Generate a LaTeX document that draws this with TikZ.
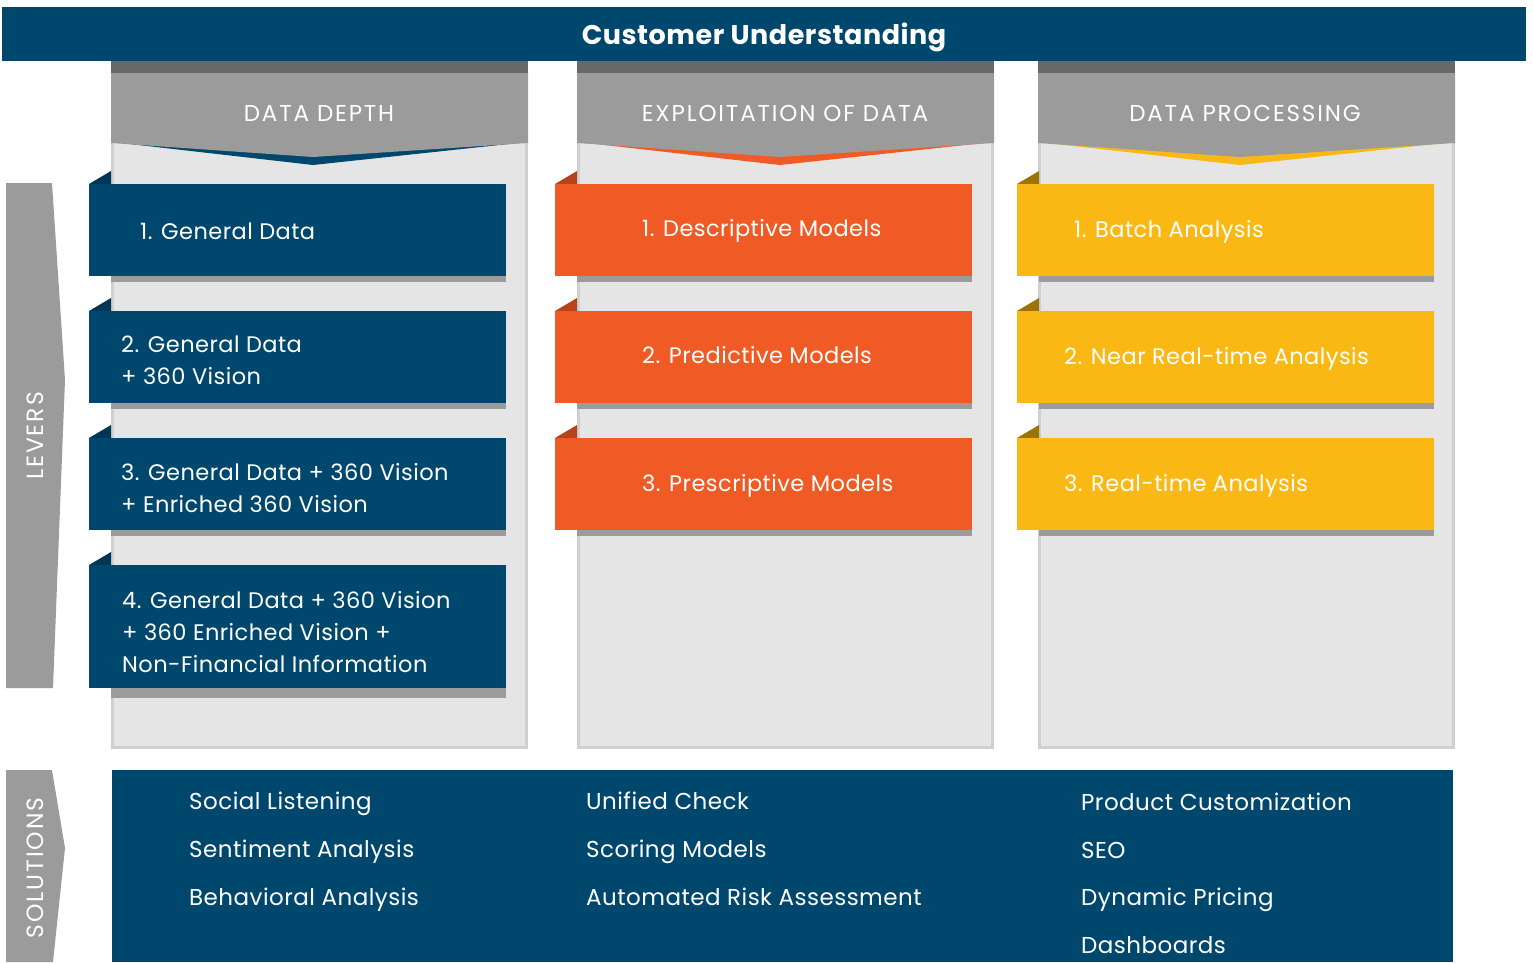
\documentclass[tikz,border=0pt]{standalone}
\usepackage{fontspec}
\setmainfont{Poppins}
\newfontfamily\spacedfont[LetterSpace=8]{Poppins}
\newfontfamily\widefont[LetterSpace=2]{Poppins}
\definecolor{cublue}{HTML}{00476E}
\definecolor{cublued}{HTML}{003655}
\definecolor{cuorange}{HTML}{F05A24}
\definecolor{cuoranged}{HTML}{B8421A}
\definecolor{cuyellow}{HTML}{FAB814}
\definecolor{cuyellowd}{HTML}{9C7304}
\definecolor{hdrgray}{HTML}{9B9B9B}
\definecolor{hdrdark}{HTML}{686868}
\definecolor{panelgray}{HTML}{E5E5E5}
\definecolor{panelborder}{HTML}{D0D0D0}
\definecolor{shadowgray}{HTML}{9B9B9B}
\newcommand\drawcard[6]{%
  \fill[#5] (#1,#2) -- (#1+22,#2-13) -- (#1+22,#2) -- cycle;
  \fill[shadowgray] (#1+22,#3) rectangle (#1+417,#3+#6);
  \fill[#4] (#1,#2) rectangle (#1+417,#3);
}
\newcommand\drawpanel[3]{%
  \fill[panelgray, draw=panelborder, line width=3pt] (#1+1.5,101) rectangle (#1+415.5,747);
  \fill[#3] (#1+10,143) -- (#2,165) -- (#1+407,143) -- cycle;
  \fill[hdrgray] (#1,73) -- (#1+417,73) -- (#1+417,143) -- (#2,157) -- (#1,143) -- cycle;
  \fill[hdrdark] (#1,61) rectangle (#1+417,73);
}
\begin{document}
\begin{tikzpicture}[x=1pt,y=-1pt,
  cardtext/.style={text=white, anchor=west, align=left, inner sep=0pt,
    font=\widefont\fontsize{22.5}{32}\selectfont},
  cardline/.style={text=white, anchor=base west, inner sep=0pt,
    font=\widefont\fontsize{22.5}{32}\selectfont},
  hdrtext/.style={text=white, anchor=base, inner sep=0pt, font=\spacedfont\fontsize{23}{26}\selectfont},
  soltext/.style={text=white, anchor=base west, inner sep=0pt, font=\widefont\fontsize{23}{26}\selectfont},
  sidetext/.style={text=white, inner sep=0pt, rotate=90, font=\spacedfont\fontsize{23.5}{26}\selectfont},
]
\useasboundingbox (0,0) rectangle (1533,962);
% title bar
\fill[cublue] (2,7) rectangle (1526,61);
\node[text=white, anchor=base, inner sep=0pt, font=\widefont\fontsize{27}{30}\selectfont\bfseries] (title) at (764,44) {Customer Understanding};
% panels
\drawpanel{111}{313}{cublue}
\drawpanel{577}{780}{cuorange}
\drawpanel{1038}{1240}{cuyellow}
\node[hdrtext] (h1) at (319,121.5) {DATA DEPTH};
\node[hdrtext] (h2) at (785,121.5) {EXPLOITATION OF DATA};
\node[hdrtext] (h3) at (1245,121.5) {DATA PROCESSING};
% side arrows
\fill[hdrgray] (6,183) -- (52,183) -- (65,380) -- (53,688) -- (6,688) -- cycle;
\fill[hdrgray] (6,770) -- (52,770) -- (65,848) -- (53,962) -- (6,962) -- cycle;
\node[sidetext] (levers) at (35,436) {LEVERS};
\node[sidetext] (solutions) at (35,868) {SOLUTIONS};
% column 1 cards
\drawcard{89}{184}{276}{cublue}{cublued}{6}
\drawcard{89}{311}{403}{cublue}{cublued}{6}
\drawcard{89}{438}{530}{cublue}{cublued}{6}
\drawcard{89}{565}{688}{cublue}{cublued}{10}
\node[cardline] (a1) at (140,239) {1. General Data};
\node[cardtext] (a2) at (121,360) {2. General Data\\+ 360 Vision};
\node[cardtext] (a3) at (121,488) {3. General Data + 360 Vision\\+ Enriched 360 Vision};
\node[cardtext] (a4) at (122,632) {4. General Data + 360 Vision\\+ 360 Enriched Vision +\\Non-Financial Information};
% column 2 cards
\drawcard{555}{184}{276}{cuorange}{cuoranged}{6}
\drawcard{555}{311}{403}{cuorange}{cuoranged}{6}
\drawcard{555}{438}{530}{cuorange}{cuoranged}{6}
\node[cardline] (b1) at (642,236) {1. Descriptive Models};
\node[cardline] (b2) at (642,363) {2. Predictive Models};
\node[cardline] (b3) at (642,491) {3. Prescriptive Models};
% column 3 cards
\drawcard{1017}{184}{276}{cuyellow}{cuyellowd}{6}
\drawcard{1017}{311}{403}{cuyellow}{cuyellowd}{6}
\drawcard{1017}{438}{530}{cuyellow}{cuyellowd}{6}
\node[cardline] (c1) at (1074,237) {1. Batch Analysis};
\node[cardline] (c2) at (1064,364) {2. Near Real-time Analysis};
\node[cardline] (c3) at (1064,491) {3. Real-time Analysis};
% solutions box
\fill[cublue] (112,770) rectangle (1453,962);
\node[soltext] (s11) at (189,809) {Social Listening};
\node[soltext] (s12) at (189,857) {Sentiment Analysis};
\node[soltext] (s13) at (189,905) {Behavioral Analysis};
\node[soltext] (s21) at (586,809) {Unified Check};
\node[soltext] (s22) at (586,857) {Scoring Models};
\node[soltext] (s23) at (586,905) {Automated Risk Assessment};
\node[soltext] (s31) at (1081,810) {Product Customization};
\node[soltext] (s32) at (1081,858) {SEO};
\node[soltext] (s33) at (1081,905) {Dynamic Pricing};
\node[soltext] (s34) at (1081,953) {Dashboards};
\end{tikzpicture}
\end{document}
